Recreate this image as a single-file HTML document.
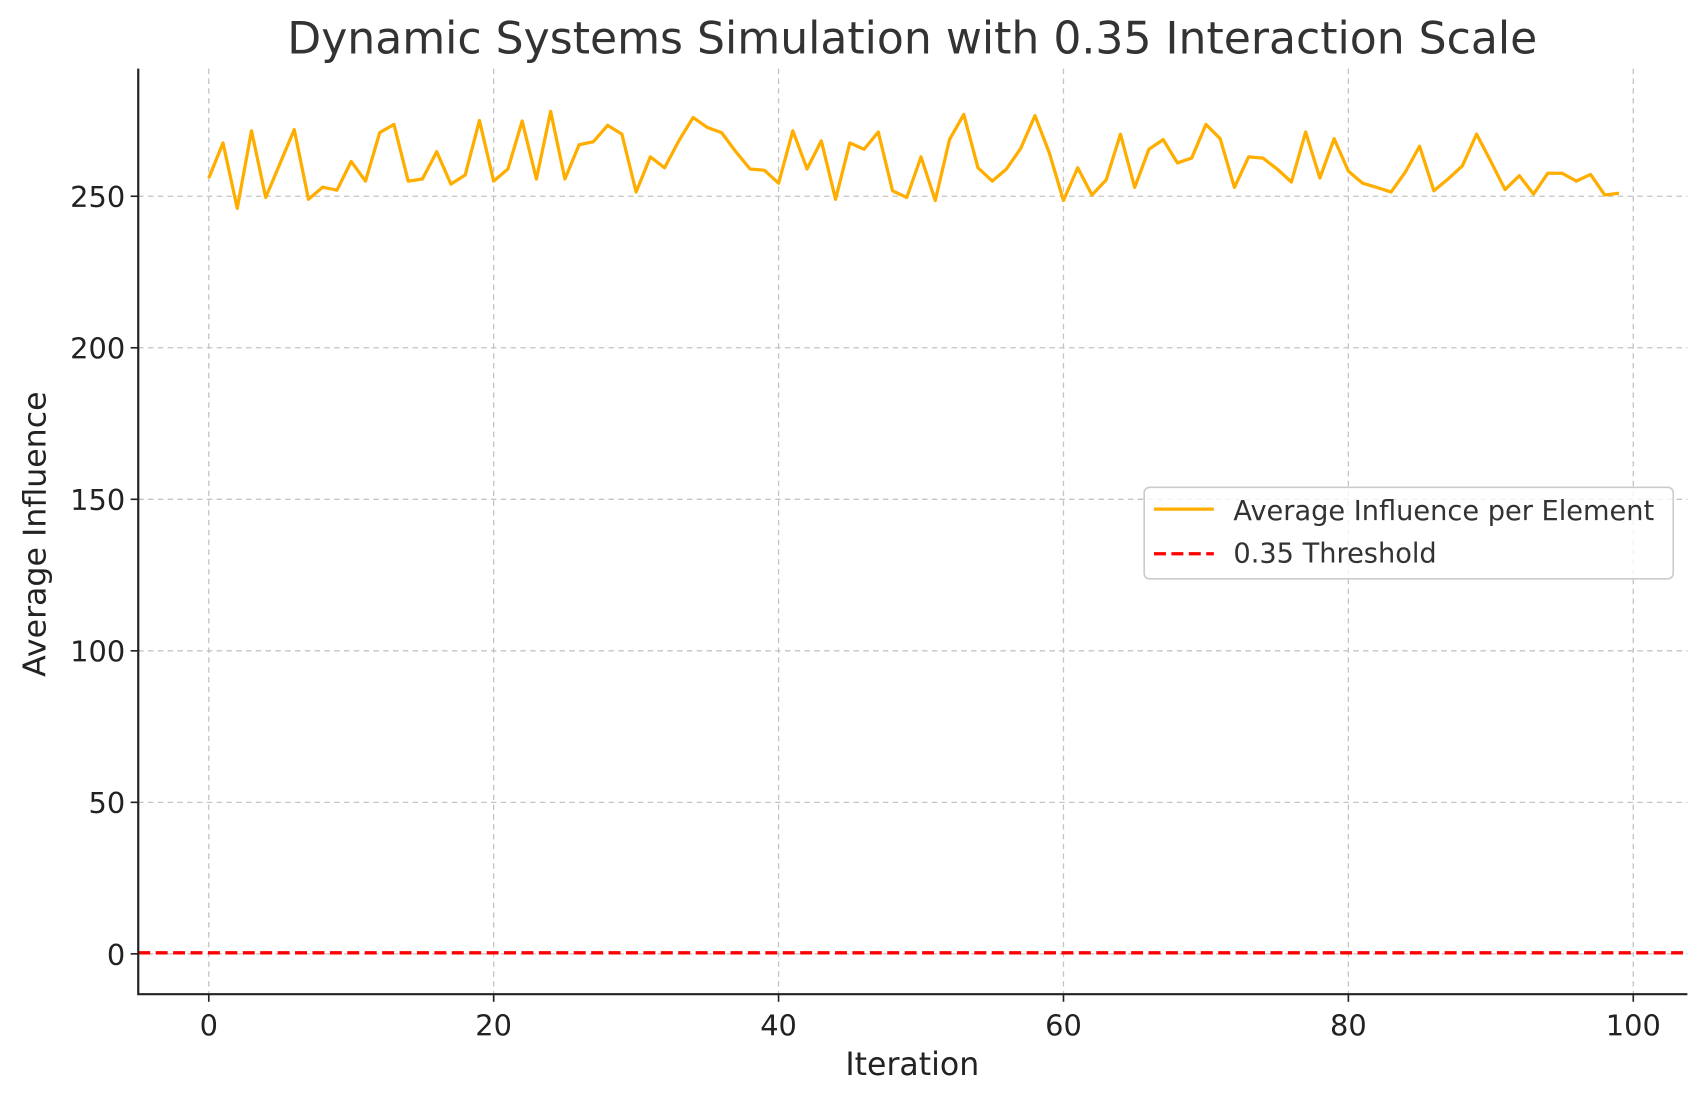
<!DOCTYPE html>
<html><head><meta charset="utf-8"><style>
html,body{margin:0;padding:0;background:#fff;}
svg{display:block;font-family:"DejaVu Sans","Liberation Sans",sans-serif;}
</style></head><body>
<svg id="chart" width="1707" height="1101" viewBox="0 0 1568 1010" preserveAspectRatio="none" xmlns="http://www.w3.org/2000/svg">
<rect width="1568" height="1010" fill="#fff"/>
<text x="838" y="49" text-anchor="middle" font-size="40.5" fill="#333">Dynamic Systems Simulation with 0.35 Interaction Scale</text>
<g id="grid"></g>
<g id="series"></g>
<g id="axes"></g>
<text x="838" y="986" text-anchor="middle" font-size="29" fill="#222">Iteration</text>
<text transform="translate(42,490) rotate(-90)" text-anchor="middle" font-size="29" fill="#222">Average Influence</text>
<g>
<rect x="1051" y="447" width="486" height="84" rx="5" fill="#fff" fill-opacity="0.8" stroke="#ccc" stroke-width="1.5"/>
<line x1="1060" y1="467" x2="1115" y2="467" stroke="#ffae00" stroke-width="3"/>
<text x="1133" y="477" font-size="25" fill="#333">Average Influence per Element</text>
<line x1="1060" y1="508" x2="1115" y2="508" stroke="#ff0000" stroke-width="3" stroke-dasharray="11,5"/>
<text x="1133" y="516" font-size="25" fill="#333">0.35 Threshold</text>
</g>
</svg>
<script>
const values = [256,267.6,246,271.6,249.6,260.8,272,249,253,252,261.5,255,271,273.7,255,255.7,264.7,254,257,275,255,259,274.8,255.7,278,255.7,267,268,273.4,270.5,251.4,263,259.4,268.3,276,272.7,271,264.7,259,258.6,254.3,271.6,259,268.3,249,267.6,265.5,271.2,251.8,249.6,263,248.6,268.7,277,259.4,255,259,265.8,276.6,264.4,248.6,259.4,250.4,255.4,270.5,252.9,265.5,268.7,261,262.6,273.7,269,252.9,263,262.6,259,254.7,271.2,256,269,258.3,254.3,252.9,251.4,258,266.5,251.8,255.7,260,270.5,261.5,252.2,256.8,250.7,257.6,257.6,255,257.2,250.4,251];
const threshold = 0.35;
const xTicks = [0,20,40,60,80,100];
const yTicks = [0,50,100,150,200,250];

const L=127,R=1550,T=63,B=912;
const xMin=-4.95,xMax=103.8,yMin=-13.3,yMax=292.1;
const sx=v=>L+(v-xMin)/(xMax-xMin)*(R-L);
const sy=v=>B-(v-yMin)/(yMax-yMin)*(B-T);
const NS='http://www.w3.org/2000/svg';
function mk(tag,attrs,parent){const e=document.createElementNS(NS,tag);for(const k in attrs)e.setAttribute(k,attrs[k]);parent.appendChild(e);return e;}
const grid=document.getElementById('grid'),axes=document.getElementById('axes'),series=document.getElementById('series');
xTicks.forEach(t=>{
  const g=mk('line',{x1:sx(t),x2:sx(t),y1:T,y2:B,stroke:'#c4c4c4','stroke-width':1.2,'stroke-dasharray':'5,4'},grid);
  
  
  const tk=mk('line',{x1:sx(t),x2:sx(t),y1:B,y2:B+7,stroke:'#222','stroke-width':1.5},axes);
  
  
  const tx=mk('text',{x:sx(t),y:B+38,'text-anchor':'middle','font-size':26.5,fill:'#222'},axes);
  tx.textContent=t;
  
  
});
yTicks.forEach(t=>{
  const g=mk('line',{x1:L,x2:R,y1:sy(t),y2:sy(t),stroke:'#c4c4c4','stroke-width':1.2,'stroke-dasharray':'5,4'},grid);
  
  
  const tk=mk('line',{x1:L-7,x2:L,y1:sy(t),y2:sy(t),stroke:'#222','stroke-width':1.5},axes);
  
  
  const tx=mk('text',{x:L-12,y:sy(t)+10,'text-anchor':'end','font-size':26.5,fill:'#222'},axes);
  tx.textContent=t;
  
  
});
const ax=mk('path',{d:`M${L},${T}V${B}H${R}`,fill:'none',stroke:'#222','stroke-width':2},axes);


const th=mk('line',{x1:L,x2:R,y1:sy(threshold),y2:sy(threshold),stroke:'#ff0000','stroke-width':3,'stroke-dasharray':'11,5'},series);


const d=values.map((v,i)=>(i?'L':'M')+sx(i).toFixed(2)+','+sy(v).toFixed(2)).join('');
const ln=mk('path',{d:d,fill:'none',stroke:'#ffae00','stroke-width':3,'stroke-linejoin':'round'},series);


</script>
</body></html>
